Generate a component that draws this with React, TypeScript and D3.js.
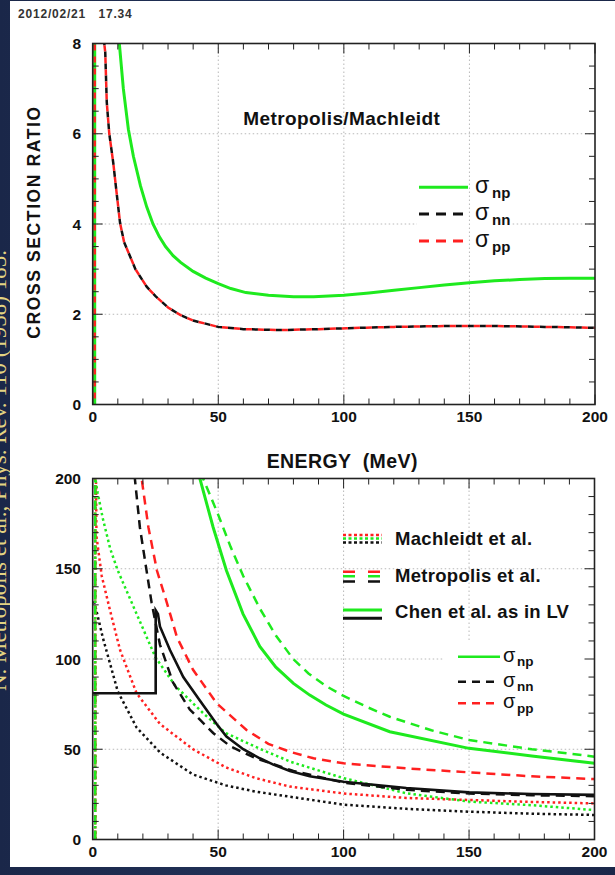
import React from "react";
import * as d3 from "d3";

type Pt = [number, number];

// ---------- data ----------
const xTickValues = [0, 50, 100, 150, 200];
const topYTickValues = [0, 2, 4, 6, 8];
const bottomYTickValues = [0, 50, 100, 150, 200];

// top panel: cross section ratio Metropolis / Machleidt
const ratioNp: Pt[] = [[0.8, 0], [0.8, 20], [10.6, 8.0], [12.2, 7.0], [14.2, 6.1], [16.2, 5.5], [19, 4.85], [21.5, 4.38], [24, 4.0], [26.5, 3.72], [29, 3.5], [32, 3.3], [35, 3.15], [40, 2.95], [45, 2.8], [50, 2.68], [55, 2.57], [61, 2.48], [70, 2.42], [80, 2.39], [88, 2.39], [100, 2.42], [110, 2.47], [120, 2.53], [130, 2.59], [140, 2.65], [150, 2.7], [160, 2.74], [170, 2.77], [180, 2.79], [190, 2.8], [200, 2.8]];
const ratioNn: Pt[] = [[0.8, 0], [0.8, 20], [4.6, 8], [5, 7.8], [5.6, 6.7], [6.6, 6.0], [8.2, 5.35], [9.5, 4.7], [10.9, 4.02], [12.5, 3.6], [14.9, 3.28], [17, 3.0], [21.5, 2.61], [25, 2.4], [30, 2.15], [35, 1.98], [40, 1.86], [50, 1.72], [60, 1.67], [75, 1.65], [90, 1.67], [101, 1.69], [120, 1.72], [141, 1.74], [160, 1.74], [180, 1.72], [200, 1.7]];
const ratioPp: Pt[] = [[0.8, 0], [0.8, 20], [4.6, 8], [5, 7.8], [5.6, 6.7], [6.6, 6.0], [8.2, 5.35], [9.5, 4.7], [10.9, 4.02], [12.5, 3.6], [14.9, 3.28], [17, 3.0], [21.5, 2.61], [25, 2.4], [30, 2.15], [35, 1.98], [40, 1.86], [50, 1.72], [60, 1.67], [75, 1.65], [90, 1.67], [101, 1.69], [120, 1.72], [141, 1.74], [160, 1.74], [180, 1.72], [200, 1.7]];

// bottom panel: cross sections (mb)
const machleidtNp: Pt[] = [[1, 0], [1, 200], [2, 192], [4, 178], [7, 161], [10, 149], [15, 133], [20, 117], [25, 101], [33, 85], [44, 70], [53, 59], [67, 50], [79, 43], [100, 34], [125, 25.6], [150, 21], [175, 19], [200, 16.3]];
const machleidtPp: Pt[] = [[1, 0], [1, 250], [1.5, 168], [3.6, 146], [6.9, 127], [10.9, 105], [17.5, 81], [26.8, 64], [40, 50], [53, 40], [65, 34], [78.6, 29.3], [100, 25.5], [125, 23], [150, 21.9], [175, 20.8], [200, 20]];
const machleidtNn: Pt[] = [[0.6, 132], [4, 112], [10, 82], [17.5, 62], [27, 48], [40, 36], [53, 30], [65, 26.5], [78.6, 23.7], [100, 19.3], [125, 17], [150, 15.4], [175, 14.3], [200, 13.6]];
const metropolisNp: Pt[] = [[1, 0], [1, 250], [44, 200], [50, 180], [55, 162], [60, 146], [66.6, 128], [73, 113], [79.9, 100], [86, 92], [93, 85], [100, 79.5], [110, 73], [118.4, 68], [135, 60.5], [150, 55.1], [175, 50], [200, 45.9]];
const metropolisPp: Pt[] = [[1, 0], [1, 250], [19.5, 200], [22.2, 173], [25.6, 149], [29.6, 131], [33.6, 112], [40, 94], [49.4, 75.5], [61.3, 60.7], [70, 53], [78.6, 48.6], [88, 45], [100, 42.2], [125, 39.4], [150, 37.2], [175, 35], [200, 33.5]];
const metropolisNn: Pt[] = [[16.3, 210], [16.8, 200], [18.8, 173], [21.8, 146], [23.5, 131], [26.8, 108], [32, 87], [38.7, 72], [48, 59], [55, 51.5], [65, 45], [80, 38], [100, 31.5], [125, 27.5], [150, 25.5], [175, 24.5], [200, 24]];
const chenNp: Pt[] = [[42, 205], [42.7, 200], [48, 173], [53.3, 149], [59.9, 125], [66.6, 107], [73, 95.5], [80, 86.5], [86.5, 80], [93, 74.5], [100, 69.5], [118.4, 59.7], [150, 50.5], [175, 46.3], [200, 42.2]];
const chenNn: Pt[] = [[0, 81], [25.1, 81], [25.1, 127], [26, 125], [26.8, 118], [30.8, 105], [36.1, 90], [42.7, 77], [49.4, 64], [53.3, 57], [60, 50], [66.6, 45], [72, 41.5], [78.6, 38], [86.5, 35], [100, 32], [125, 28.5], [150, 26.1], [175, 25.2], [200, 24.7]];

const sigmaLabels = ["np", "nn", "pp"];
const modelLabels = ["Machleidt et al.", "Metropolis et al.", "Chen et al. as in LV"];

// ---------- style ----------
const GREEN = "#1eea1e";
const RED = "#ff2020";
const BLACK = "#111111";
const FONT = "'Liberation Sans', Arial, Helvetica, sans-serif";
const DOT = "2.5 3";
const DASH = "9 6";

const W = 615;
const H = 875;

const topBox = { x0: 92.7, x1: 595, y0: 43.5, y1: 404.5 };
const botBox = { x0: 92.7, x1: 594.5, y0: 478.5, y1: 839.5 };

const xTop = d3.scaleLinear().domain([0, 200]).range([topBox.x0, topBox.x1]);
const yTop = d3.scaleLinear().domain([0, 8]).range([topBox.y1, topBox.y0]);
const xBot = d3.scaleLinear().domain([0, 200]).range([botBox.x0, botBox.x1]);
const yBot = d3.scaleLinear().domain([0, 200]).range([botBox.y1, botBox.y0]);

function Axes({ xs, ys, box, yMajor, yMinor }: any) {
  const xMinor = d3.range(0, 201, 10);
  const els: any[] = [];
  xMinor.forEach((v: number) => {
    const major = xTickValues.includes(v);
    const len = major ? 10 : 6;
    const x = xs(v);
    els.push(<line key={"xb" + v} x1={x} x2={x} y1={box.y1} y2={box.y1 - len} stroke="#222" strokeWidth={1} />);
    els.push(<line key={"xt" + v} x1={x} x2={x} y1={box.y0} y2={box.y0 + len} stroke="#222" strokeWidth={1} />);
  });
  yMinor.forEach((v: number) => {
    const major = yMajor.includes(v);
    const len = major ? 10 : 6;
    const y = ys(v);
    els.push(<line key={"yl" + v} x1={box.x0} x2={box.x0 + len} y1={y} y2={y} stroke="#222" strokeWidth={1} />);
    els.push(<line key={"yr" + v} x1={box.x1} x2={box.x1 - len} y1={y} y2={y} stroke="#222" strokeWidth={1} />);
  });
  return (
    <g>
      {els}
      <rect x={box.x0} y={box.y0} width={box.x1 - box.x0} height={box.y1 - box.y0} fill="none" stroke="#222" strokeWidth={1.6} />
      {yMajor.map((v: number) => (
        <text key={"yl" + v} x={81} y={ys(v)} dy="0.36em" textAnchor="end" fontFamily={FONT} fontWeight="bold" fontSize={15.5} fill="#111">{v}</text>
      ))}
      {xTickValues.map((v) => (
        <text key={"xl" + v} x={xs(v)} y={box.y1 + 17.5} textAnchor="middle" fontFamily={FONT} fontWeight="bold" fontSize={15.5} fill="#111">{v}</text>
      ))}
    </g>
  );
}

function GridH({ ys, box, values }: any) {
  return (
    <g>
      {values.filter((v: number) => v !== values[0] && v !== values[values.length - 1]).map((v: number) => (
        <line key={"gh" + v} x1={box.x0} x2={box.x1} y1={ys(v)} y2={ys(v)} stroke="#b8b8b8" strokeWidth={1} strokeDasharray="1.5 2.5" />
      ))}
    </g>
  );
}
function GridV({ xs, box }: any) {
  return (
    <g>
      {[50, 100, 150].map((v) => (
        <line key={"gv" + v} x1={xs(v)} x2={xs(v)} y1={box.y0} y2={box.y1} stroke="#b8b8b8" strokeWidth={1} strokeDasharray="1.5 2.5" />
      ))}
    </g>
  );
}

export default function App() {
  const lineTop = d3.line<Pt>().x((d) => xTop(d[0])).y((d) => yTop(d[1]));
  const lineBot = d3.line<Pt>().x((d) => xBot(d[0])).y((d) => yBot(d[1]));

  const topLegY = [187.3, 214, 241];
  const botLegY = [656.7, 681.7, 703.3];

  return (
    <svg width={W} height={H} style={{ position: "absolute", left: 0, top: 0, display: "block" }}>
      <defs>
        <clipPath id="clipTop">
          <rect x={topBox.x0} y={topBox.y0} width={topBox.x1 - topBox.x0} height={topBox.y1 - topBox.y0} />
        </clipPath>
        <clipPath id="clipBot">
          <rect x={botBox.x0} y={botBox.y0} width={botBox.x1 - botBox.x0} height={botBox.y1 - botBox.y0} />
        </clipPath>
        <linearGradient id="bg" x1="0" x2="1" y1="0" y2="0">
          <stop offset="0" stopColor="#1a2749" />
          <stop offset="0.5" stopColor="#22335a" />
          <stop offset="1" stopColor="#1a2749" />
        </linearGradient>
      </defs>
      <rect x={0} y={0} width={W} height={H} fill="url(#bg)" />
      <text transform="translate(6,250) rotate(-90)" textAnchor="end" fontFamily="'Liberation Serif', 'DejaVu Serif', serif" fontSize={23} fill="#e3d382">
        N. Metropolis et al., Phys. Rev. 110 (1958) 185.
      </text>
      <rect x={10} y={1} width={W - 10} height={866} fill="#ffffff" />

      <text x={18} y={18} fontFamily={FONT} fontWeight="bold" fontSize={12} letterSpacing={0.8} fill="#333" style={{ whiteSpace: "pre" }}>
        2012/02/21   17.34
      </text>

      {/* ---------- top panel ---------- */}
      <GridH ys={yTop} box={topBox} values={topYTickValues} />
      <rect x={417} y={176} width={95} height={80} fill="#fff" />
      <GridV xs={xTop} box={topBox} />
      <g clipPath="url(#clipTop)" fill="none">
        <path d={lineTop(ratioNn) || ""} stroke={BLACK} strokeWidth={2.5} strokeDasharray="6 6" />
        <path d={lineTop(ratioNp) || ""} stroke={GREEN} strokeWidth={3} />
        <path d={lineTop(ratioPp) || ""} stroke={RED} strokeWidth={2.5} strokeDasharray="6 6" strokeDashoffset={6} />
      </g>
      <Axes xs={xTop} ys={yTop} box={topBox} yMajor={topYTickValues} yMinor={d3.range(0, 8.01, 0.5)} />
      <text x={243.3} y={125} fontFamily={FONT} fontWeight="bold" fontSize={19} letterSpacing={0.4} fill="#111">Metropolis/Machleidt</text>
      <text transform="translate(40,222) rotate(-90)" textAnchor="middle" fontFamily={FONT} fontWeight="bold" fontSize={17.5} letterSpacing={1.6} fill="#111">CROSS SECTION RATIO</text>

      {sigmaLabels.map((s, i) => (
        <g key={"tl" + s}>
          <line x1={419} x2={468} y1={topLegY[i]} y2={topLegY[i]} stroke={[GREEN, BLACK, RED][i]} strokeWidth={3} strokeDasharray={i === 0 ? undefined : "10 7"} />
          <text x={475} y={topLegY[i] + 6} fontFamily={FONT} fontSize={23} fill="#111">σ</text>
          <text x={492} y={topLegY[i] + 10.5} fontFamily={FONT} fontWeight="bold" fontSize={15} fill="#111">{s}</text>
        </g>
      ))}

      <text x={266.7} y={468} fontFamily={FONT} fontWeight="bold" fontSize={19.5} letterSpacing={0.4} fill="#111" style={{ whiteSpace: "pre" }}>ENERGY  (MeV)</text>

      {/* ---------- bottom panel ---------- */}
      <GridH ys={yBot} box={botBox} values={bottomYTickValues} />
      <GridV xs={xBot} box={botBox} />
      <rect x={443} y={640} width={151} height={88} fill="#fff" />
      <g clipPath="url(#clipBot)" fill="none">
        <path d={lineBot(machleidtNn) || ""} stroke={BLACK} strokeWidth={2.5} strokeDasharray={DOT} />
        <path d={lineBot(machleidtPp) || ""} stroke={RED} strokeWidth={2.5} strokeDasharray={DOT} />
        <path d={lineBot(machleidtNp) || ""} stroke={GREEN} strokeWidth={2.5} strokeDasharray={DOT} />
        <path d={lineBot(metropolisNn) || ""} stroke={BLACK} strokeWidth={2.5} strokeDasharray={DASH} />
        <path d={lineBot(metropolisPp) || ""} stroke={RED} strokeWidth={2.5} strokeDasharray={DASH} />
        <path d={lineBot(metropolisNp) || ""} stroke={GREEN} strokeWidth={2.5} strokeDasharray={DASH} />
        <path d={lineBot(chenNn) || ""} stroke={BLACK} strokeWidth={2.6} />
        <path d={lineBot(chenNp) || ""} stroke={GREEN} strokeWidth={3} />
      </g>
      <Axes xs={xBot} ys={yBot} box={botBox} yMajor={bottomYTickValues} yMinor={d3.range(0, 201, 10)} />

      {/* model legend */}
      {[RED, GREEN, BLACK].map((c, i) => (
        <line key={"m1" + i} x1={343} x2={382} y1={[535, 538.5, 542.5][i]} y2={[535, 538.5, 542.5][i]} stroke={c} strokeWidth={2.5} strokeDasharray="3 2.5" />
      ))}
      {[RED, GREEN, BLACK].map((c, i) => (
        <line key={"m2" + i} x1={343} x2={382} y1={[571.7, 576.2, 581.5][i]} y2={[571.7, 576.2, 581.5][i]} stroke={c} strokeWidth={2.5} strokeDasharray="12 13" />
      ))}
      {[GREEN, BLACK].map((c, i) => (
        <line key={"m3" + i} x1={343} x2={382} y1={[610, 618.3][i]} y2={[610, 618.3][i]} stroke={c} strokeWidth={3} />
      ))}
      {modelLabels.map((m, i) => (
        <text key={"ml" + i} x={395} y={[545, 582, 618][i]} fontFamily={FONT} fontWeight="bold" fontSize={18.5} letterSpacing={0.3} fill="#111">{m}</text>
      ))}

      {sigmaLabels.map((s, i) => (
        <g key={"bl" + s}>
          <line x1={458} x2={500} y1={botLegY[i]} y2={botLegY[i]} stroke={[GREEN, BLACK, RED][i]} strokeWidth={2.5} strokeDasharray={i === 0 ? undefined : "8 6"} />
          <text x={503} y={botLegY[i] + 5} fontFamily={FONT} fontSize={20} fill="#111">σ</text>
          <text x={517} y={botLegY[i] + 9.5} fontFamily={FONT} fontWeight="bold" fontSize={13.5} fill="#111">{s}</text>
        </g>
      ))}
    </svg>
  );
}
